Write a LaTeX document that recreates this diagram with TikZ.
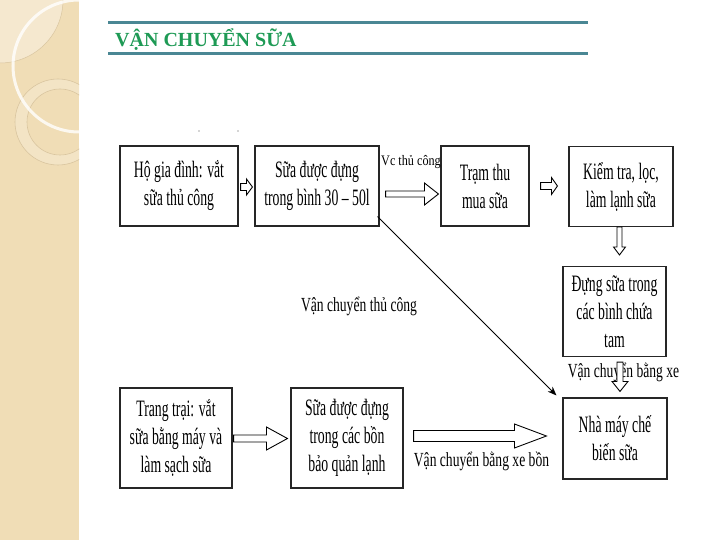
\documentclass[tikz,border=0pt]{standalone}
\usepackage{fontspec}
\setmainfont{Liberation Serif}
\newfontfamily\bxfont[FakeStretch=0.585]{Liberation Serif}
\newfontfamily\lbfont[FakeStretch=0.68]{Liberation Serif}
\newfontfamily\vcfont[FakeStretch=0.84]{Liberation Serif}
\usetikzlibrary{calc,arrows.meta}
\definecolor{panel}{HTML}{F0DDB6}
\definecolor{panellight}{HTML}{F5E8CF}
\definecolor{ringline}{HTML}{D9C59F}
\definecolor{titleline}{HTML}{4A8794}
\definecolor{titlegreen}{HTML}{1E9A55}
\tikzset{
  box/.style={draw=black!85, line width=1.1pt, fill=white, inner sep=0pt, align=center,
    font=\bxfont\fontsize{23.5}{28}\selectfont},
  blockarrow/.style={draw=black, line width=0.9pt, fill=white, line join=miter},
  lbl/.style={inner sep=0pt, font=\lbfont\fontsize{20}{22}\selectfont},
}
% horizontal hollow block arrow: #1 start, #2 end, #3 shaft half, #4 head half, #5 head length
\newcommand\harrow[5]{%
  \draw[blockarrow] let \p1=(#1), \p2=(#2) in
    (\x1,\y1+#3pt) -- (\x2-#5pt,\y1+#3pt) -- (\x2-#5pt,\y1+#4pt) -- (\x2,\y1)
    -- (\x2-#5pt,\y1-#4pt) -- (\x2-#5pt,\y1-#3pt) -- (\x1,\y1-#3pt) -- cycle;}
% vertical (downward) hollow block arrow
\newcommand\varrow[5]{%
  \draw[blockarrow] let \p1=(#1), \p2=(#2) in
    (\x1-#3pt,\y1) -- (\x1-#3pt,\y2+#5pt) -- (\x1-#4pt,\y2+#5pt) -- (\x1,\y2)
    -- (\x1+#4pt,\y2+#5pt) -- (\x1+#3pt,\y2+#5pt) -- (\x1+#3pt,\y1) -- cycle;}
\begin{document}
\begin{tikzpicture}[x=1pt,y=-1pt]
\useasboundingbox (0,0) rectangle (720,540);
\fill[white] (0,0) rectangle (720,540);
% left decorative panel
\begin{scope}
  \clip (0,0) rectangle (79,540);
  \fill[panel] (0,0) rectangle (79,540);
  \fill[panellight, draw=ringline, line width=0.5pt] (0,0) circle[radius=63];
  \fill[panellight!60!panel, even odd rule] (58,122) circle[radius=43] (60,122) circle[radius=33];
  \draw[ringline, line width=0.6pt] (58,122) circle[radius=43];
  \draw[ringline, line width=0.6pt] (60,122) circle[radius=33];
  \draw[white, opacity=0.8, line width=3pt] (79,66) circle[radius=66];
\end{scope}
% title
\draw[titleline, line width=2.2pt] (108,22.5) -- (588,22.5);
\draw[titleline, line width=2.2pt] (108,53.5) -- (588,53.5);
\node[anchor=base west, inner sep=0pt, text=titlegreen, font=\bfseries\fontsize{20}{24}\selectfont]
  (title) at (115,46.5) {VẬN CHUYỂN SỮA};
% small dots
\fill[black!70] (199,131) circle[radius=0.7];
\fill[black!70] (238,131) circle[radius=0.7];
% boxes
\node[box, minimum width=118, minimum height=80] (b1) at (179,186) {Hộ gia đình: vắt\\sữa thủ công};
\node[box, minimum width=124, minimum height=80] (b2) at (317,186) {Sữa được đựng\\trong bình 30 – 50l};
\node[box, minimum width=88, minimum height=80] (b3) at (485,186) {Trạm thu\\mua sữa};
\node[box, minimum width=104, minimum height=80] (b4) at (621,186.5) {Kiểm tra, lọc,\\làm lạnh sữa};
\node[box, minimum width=103, minimum height=90] (b5) at (614.5,311.5) {Đựng sữa trong\\các bình chứa\\tam};
\node[box, minimum width=104, minimum height=81] (b6) at (615,438.5) {Nhà máy chế\\biến sữa};
\node[box, minimum width=112, minimum height=100] (b7) at (176,438) {Trang trại: vắt\\sữa bằng máy và\\làm sạch sữa};
\node[box, minimum width=112, minimum height=100] (b8) at (347,438) {Sữa được đựng\\trong các bồn\\bảo quản lạnh};
% labels
\node[inner sep=0pt, font=\vcfont\fontsize{14.5}{16}\selectfont] (l1) at (411,162) {Vc thủ công};
\node[lbl] (l2) at (359,306) {Vận chuyển thủ công};
\node[lbl] (l3) at (623.5,372) {Vận chuyển bằng xe};
\node[lbl] (l4) at (481.5,461) {Vận chuyển bằng xe bồn};
% block arrows
\harrow{$(b1.east)+(2,1)$}{$(b2.west)+(-2,1)$}{3.5}{8}{6}
\harrow{$(b2.east)+(6,8)$}{$(b3.west)+(-2,8)$}{3}{11}{14}
\harrow{$(b3.east)+(11,0)$}{$(b4.west)+(-11,0)$}{3.5}{8.5}{6}
\varrow{$(b4.south)+(-1.5,0)$}{$(b5.north)+(-1.5,-11)$}{2.5}{6}{8}
\varrow{$(b5.south)+(5.5,5)$}{$(b6.north)+(5,-6)$}{3}{8}{10}
\harrow{$(b7.east)+(1,0.5)$}{$(b8.west)+(-3,0.5)$}{3.5}{11.5}{21}
\harrow{$(b8.east)+(10,-2)$}{$(b6.west)+(-16,-2)$}{5.5}{12}{32}
% diagonal connector
\coordinate (d0) at ($(b2.south east)+(-2,-10)$);
\coordinate (d1) at ($(b6.north west)+(-6,-2)$);
\draw[line width=0.9pt, -{Stealth[length=9pt,width=7pt]}] (d0) -- (d1);
\end{tikzpicture}
\end{document}
